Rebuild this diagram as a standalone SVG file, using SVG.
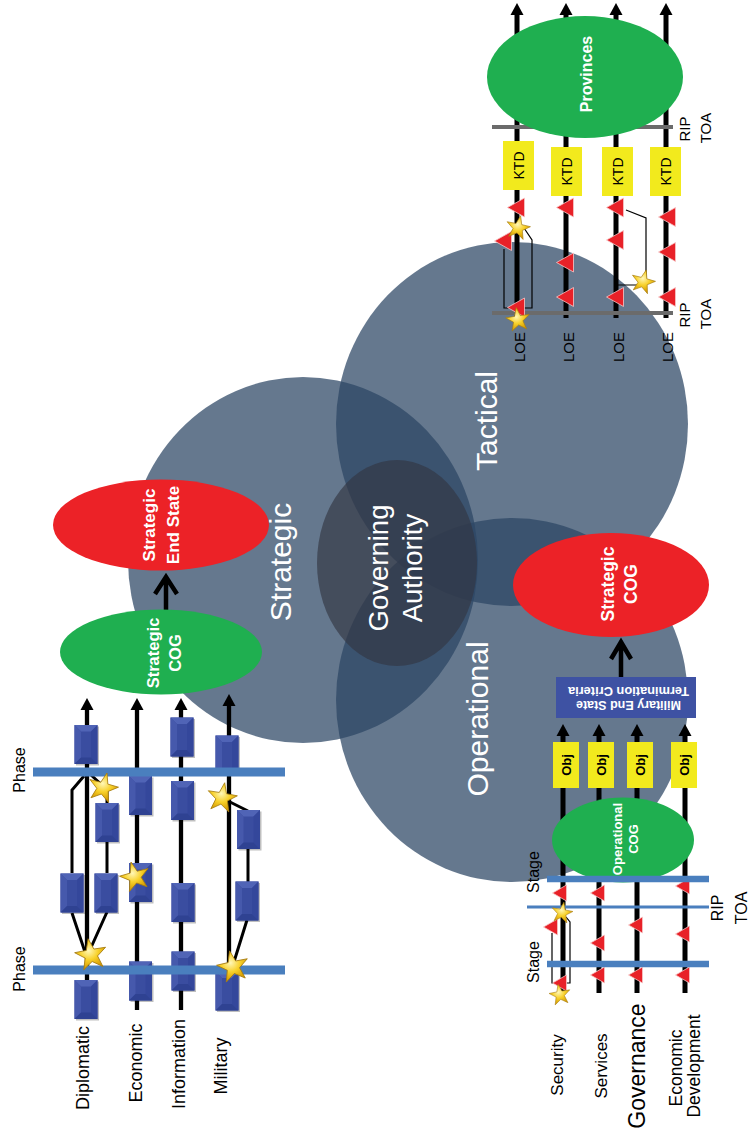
<svg xmlns="http://www.w3.org/2000/svg" width="748" height="1136" viewBox="0 0 748 1136">
<style>
text{font-family:"Liberation Sans",Arial,sans-serif}
.k{fill:#000}
.w{fill:#fff}
.b{font-weight:bold}
.circ{fill:#2c4664;fill-opacity:.73}
.loe{stroke:#000;stroke-width:4.3;fill:none}
.loe5{stroke:#000;stroke-width:5;fill:none}
.br{stroke:#000;stroke-width:3;fill:none}
.thin{stroke:#000;stroke-width:1.2;fill:none}
.chev{stroke:#000;stroke-width:4.5;fill:none}
.phase{stroke:#4a7fbe;stroke-width:9}
.stage{stroke:#4a7fbe;stroke-width:6.5}
.rip{stroke:#4a7fbe;stroke-width:3}
.grey{stroke:#6b6b6b;stroke-width:4}
.green{fill:#1faf50}
.red{fill:#ec2227}
.yel{fill:#f2ea1d}
.mes{fill:#3e52a3}
</style>
<defs>
<marker id="ah" viewBox="0 -7 13 14" refX="1" refY="0" markerWidth="13" markerHeight="14" markerUnits="userSpaceOnUse" orient="auto"><path d="M0,-6.5 L12,0 L0,6.5 Z" fill="#000"/></marker>
<radialGradient id="sg" cx="0.45" cy="0.4" r="0.6"><stop offset="0" stop-color="#fff7b8"/><stop offset="0.5" stop-color="#f8d12a"/><stop offset="1" stop-color="#d49a00"/></radialGradient>
<path id="star" d="M0,-10 L2.351,-3.236 L9.511,-3.090 L3.804,1.236 L5.878,8.090 L0,4 L-5.878,8.090 L-3.804,1.236 L-9.511,-3.090 L-2.351,-3.236 Z" fill="url(#sg)" stroke="#a67c10" stroke-width="0.5"/>
<g id="bx">
<rect x="-10" y="-18" width="23" height="39" fill="#000" opacity="0.25"/>
<rect x="-11.5" y="-19.5" width="23" height="39" fill="#3a4da0"/>
<polygon points="-11.5,-19.5 11.5,-19.5 5,-13 -5,-13" fill="#5064b6"/>
<polygon points="-11.5,-19.5 -5,-13 -5,13 -11.5,19.5" fill="#4659ac"/>
<polygon points="11.5,-19.5 11.5,19.5 5,13 5,-13" fill="#34479b"/>
<polygon points="-11.5,19.5 -5,13 5,13 11.5,19.5" fill="#2f4292"/>
</g>
<path id="tt" d="M-9.5,0 L7.5,-9.5 L7.5,9.5 Z" fill="#e82128" stroke="#f6c6c6" stroke-width="0.8"/>
<path id="to" d="M-8.5,0 L5.5,-8 L5.5,8 Z" fill="#e82128" stroke="#f6c6c6" stroke-width="0.8"/>
</defs>
<rect width="748" height="1136" fill="#fff"/>

<g id="venn">
<ellipse id="circle-strategic" class="circ" cx="303" cy="560" rx="175" ry="183"/>
<ellipse id="circle-tactical" class="circ" cx="512" cy="424" rx="176" ry="182"/>
<ellipse id="circle-operational" class="circ" cx="512" cy="700" rx="176" ry="182"/>
<ellipse id="governing-authority" cx="397" cy="563" rx="80" ry="103" fill="#333542" fill-opacity="0.65"/>
<text class="w" font-size="30" text-anchor="middle" transform="translate(291,562) rotate(-90)">Strategic</text>
<text class="w" font-size="30" text-anchor="middle" transform="translate(497,421) rotate(-90)">Tactical</text>
<text class="w" font-size="30" text-anchor="middle" transform="translate(488,719) rotate(-90)">Operational</text>
<text class="w" font-size="27.5" text-anchor="middle" transform="translate(388,568) rotate(-90)">Governing</text>
<text class="w" font-size="27.5" text-anchor="middle" transform="translate(422,568) rotate(-90)">Authority</text>
</g>

<g id="connectors">
<path class="loe" d="M87,990 V709" marker-end="url(#ah)"/>
<path class="loe" d="M137,1010 V709" marker-end="url(#ah)"/>
<path class="loe" d="M181,1010 V709" marker-end="url(#ah)"/>
<path class="loe" d="M229,990 V705" marker-end="url(#ah)"/>
<path class="br" d="M87,958 L72,913 M72,873 V790 L84,776"/>
<path class="br" d="M89,952 L107,912 M107,873 V842 M107,803 V790 L90,774"/>
<path class="br" d="M226,800 L248,811 M248,849 V882 M247,920 L233,965"/>
<path class="chev" d="M166,610 V578 M155,594 L166,577 L177,594"/>
<path class="loe5" d="M517,318 V14" marker-end="url(#ah)"/>
<path class="loe5" d="M566,318 V14" marker-end="url(#ah)"/>
<path class="loe5" d="M616,318 V14" marker-end="url(#ah)"/>
<path class="loe5" d="M666,318 V14" marker-end="url(#ah)"/>
<path class="thin" d="M504,249 V308 H510 M522,225 L532,240 V308 H524"/>
<path class="thin" d="M626,210 L646,218 V279 M640,285 H617"/>
<path class="loe5" d="M563,993 V735" marker-end="url(#ah)"/>
<path class="loe5" d="M599,993 V735" marker-end="url(#ah)"/>
<path class="loe5" d="M637,993 V735" marker-end="url(#ah)"/>
<path class="loe5" d="M685,993 V735" marker-end="url(#ah)"/>
<path class="thin" d="M552,933 V983 H556 M566,917 L570,922 V983 H566"/>
<path class="chev" d="M621,677 V643 M611,659 L621,642 L631,659"/>
</g>

<g id="strategic-end-state">
<ellipse class="red" cx="161" cy="525" rx="108" ry="45.5"/>
<text class="w b" font-size="17" text-anchor="middle" transform="translate(155,525) rotate(-90)">Strategic</text>
<text class="w b" font-size="17" text-anchor="middle" transform="translate(179,525) rotate(-90)">End State</text>
</g>
<g id="strategic-cog-left">
<ellipse class="green" cx="161" cy="652" rx="101" ry="42.5"/>
<text class="w b" font-size="16.5" text-anchor="middle" transform="translate(159,653) rotate(-90)">Strategic</text>
<text class="w b" font-size="16.5" text-anchor="middle" transform="translate(181,653) rotate(-90)">COG</text>
</g>

<g id="strategic-loe-boxes">
<use href="#bx" x="86" y="744.5"/>
<use href="#bx" x="86" y="999.5"/>
<use href="#bx" x="72" y="893"/>
<use href="#bx" x="106" y="893"/>
<use href="#bx" x="107" y="822.5"/>
<use href="#bx" x="140.5" y="795.5"/>
<use href="#bx" x="140.5" y="882.5"/>
<use href="#bx" x="140.5" y="981"/>
<use href="#bx" x="182" y="737"/>
<use href="#bx" x="182.5" y="800.5"/>
<use href="#bx" x="183" y="902.5"/>
<use href="#bx" x="183" y="971"/>
<use href="#bx" x="227" y="755"/>
<use href="#bx" x="248.5" y="829.5"/>
<use href="#bx" x="247" y="901"/>
<use href="#bx" x="227" y="991"/>
</g>
<g id="phase-bars">
<line class="phase" x1="33" y1="772" x2="285" y2="772"/>
<line class="phase" x1="33" y1="970" x2="285" y2="970"/>
<text class="k" font-size="16" text-anchor="middle" transform="translate(25,770) rotate(-90)">Phase</text>
<text class="k" font-size="16" text-anchor="middle" transform="translate(25,969) rotate(-90)">Phase</text>
</g>
<g id="strategic-stars">
<use href="#star" transform="translate(91,955) rotate(-10) scale(1.65)"/>
<use href="#star" transform="translate(103,788) rotate(15) scale(1.55)"/>
<use href="#star" transform="translate(135,877) rotate(-15) scale(1.55)"/>
<use href="#star" transform="translate(222,798) rotate(10) scale(1.55)"/>
<use href="#star" transform="translate(233,967) rotate(-12) scale(1.65)"/>
</g>
<g id="strategic-labels">
<text class="k" font-size="18" text-anchor="middle" transform="translate(89,1068) rotate(-90)">Diplomatic</text>
<text class="k" font-size="18" text-anchor="middle" transform="translate(142,1063) rotate(-90)">Economic</text>
<text class="k" font-size="18" text-anchor="middle" transform="translate(185,1064) rotate(-90)">Information</text>
<text class="k" font-size="18" text-anchor="middle" transform="translate(227,1066) rotate(-90)">Military</text>
</g>

<g id="rip-toa-tactical">
<line class="grey" x1="492" y1="127" x2="673" y2="127"/>
<line class="grey" x1="492" y1="313" x2="673" y2="313"/>
<text class="k" font-size="15" text-anchor="middle" transform="translate(690,129) rotate(-90)">RIP</text>
<text class="k" font-size="15" text-anchor="middle" transform="translate(711,128) rotate(-90)">TOA</text>
<text class="k" font-size="15" text-anchor="middle" transform="translate(690,315) rotate(-90)">RIP</text>
<text class="k" font-size="15" text-anchor="middle" transform="translate(711,314) rotate(-90)">TOA</text>
</g>
<g id="provinces">
<ellipse class="green" cx="585" cy="77" rx="98" ry="61"/>
<text class="w b" font-size="16" text-anchor="middle" transform="translate(592,74) rotate(-90)">Provinces</text>
</g>
<g id="ktd-1"><rect class="yel" x="503" y="141" width="31" height="49"/><text class="k" font-size="14" text-anchor="middle" transform="translate(523.5,165.5) rotate(-90)">KTD</text></g>
<g id="ktd-2"><rect class="yel" x="551" y="147" width="31" height="49"/><text class="k" font-size="14" text-anchor="middle" transform="translate(571.5,171.5) rotate(-90)">KTD</text></g>
<g id="ktd-3"><rect class="yel" x="602" y="147" width="31" height="49"/><text class="k" font-size="14" text-anchor="middle" transform="translate(622.5,171.5) rotate(-90)">KTD</text></g>
<g id="ktd-4"><rect class="yel" x="650" y="147" width="31" height="49"/><text class="k" font-size="14" text-anchor="middle" transform="translate(670.5,171.5) rotate(-90)">KTD</text></g>
<g id="tactical-milestones">
<use href="#tt" x="517" y="207.5"/>
<use href="#tt" x="504" y="241"/>
<use href="#tt" x="517" y="307.5"/>
<use href="#tt" x="566" y="207.5"/>
<use href="#tt" x="566" y="262.5"/>
<use href="#tt" x="566" y="297"/>
<use href="#tt" x="616" y="207.5"/>
<use href="#tt" x="616" y="240"/>
<use href="#tt" x="616" y="297"/>
<use href="#tt" x="668" y="217"/>
<use href="#tt" x="668" y="252"/>
<use href="#tt" x="668" y="297"/>
<use href="#star" transform="translate(518,228) rotate(12) scale(1.25)"/>
<use href="#star" transform="translate(518,320) rotate(-8) scale(1.25)"/>
<use href="#star" transform="translate(643,282) rotate(15) scale(1.25)"/>
</g>
<g id="tactical-labels">
<text class="k" font-size="15" text-anchor="middle" transform="translate(525,347) rotate(-90)">LOE</text>
<text class="k" font-size="15" text-anchor="middle" transform="translate(574,347) rotate(-90)">LOE</text>
<text class="k" font-size="15" text-anchor="middle" transform="translate(624,347) rotate(-90)">LOE</text>
<text class="k" font-size="15" text-anchor="middle" transform="translate(673,347) rotate(-90)">LOE</text>
</g>

<g id="strategic-cog-right">
<ellipse class="red" cx="611" cy="585" rx="98" ry="52"/>
<text class="w b" font-size="17.5" text-anchor="middle" transform="translate(614,584) rotate(-90)">Strategic</text>
<text class="w b" font-size="17.5" text-anchor="middle" transform="translate(637,584) rotate(-90)">COG</text>
</g>
<g id="military-end-state">
<rect class="mes" x="556" y="677" width="140" height="41"/>
<text class="w b" font-size="12.5" text-anchor="middle" textLength="105" lengthAdjust="spacingAndGlyphs" transform="translate(628.5,700.5) rotate(180)">Military End State</text>
<text class="w b" font-size="12.5" text-anchor="middle" textLength="121" lengthAdjust="spacingAndGlyphs" transform="translate(628.5,687) rotate(180)">Termination Criteria</text>
</g>
<g id="obj-1"><rect class="yel" x="553" y="742" width="26" height="46"/><text class="k b" font-size="13" text-anchor="middle" transform="translate(570.7,765) rotate(-90)">Obj</text></g>
<g id="obj-2"><rect class="yel" x="588" y="742" width="26" height="46"/><text class="k b" font-size="13" text-anchor="middle" transform="translate(605.7,765) rotate(-90)">Obj</text></g>
<g id="obj-3"><rect class="yel" x="627" y="742" width="26" height="46"/><text class="k b" font-size="13" text-anchor="middle" transform="translate(644.7,765) rotate(-90)">Obj</text></g>
<g id="obj-4"><rect class="yel" x="671" y="742" width="26" height="46"/><text class="k b" font-size="13" text-anchor="middle" transform="translate(688.7,765) rotate(-90)">Obj</text></g>
<g id="operational-cog">
<ellipse class="green" cx="623" cy="840" rx="71" ry="42.5"/>
<text class="w b" font-size="13" text-anchor="middle" transform="translate(622,839) rotate(-90)">Operational</text>
<text class="w b" font-size="13" text-anchor="middle" transform="translate(638,839) rotate(-90)">COG</text>
</g>
<g id="operational-milestones">
<use href="#to" x="561" y="893"/>
<use href="#to" x="552" y="927"/>
<use href="#to" x="561" y="983"/>
<use href="#to" x="599" y="893"/>
<use href="#to" x="599" y="943"/>
<use href="#to" x="599" y="975"/>
<use href="#to" x="637" y="925"/>
<use href="#to" x="637" y="975"/>
<use href="#to" x="684" y="886"/>
<use href="#to" x="684" y="934"/>
<use href="#to" x="684" y="975"/>
</g>
<g id="stage-bars">
<line class="stage" x1="547" y1="879" x2="709" y2="879"/>
<line class="stage" x1="547" y1="964" x2="709" y2="964"/>
<line class="rip" x1="527" y1="907" x2="709" y2="907"/>
<text class="k" font-size="16" text-anchor="middle" transform="translate(539,872) rotate(-90)">Stage</text>
<text class="k" font-size="16" text-anchor="middle" transform="translate(539,962) rotate(-90)">Stage</text>
<text class="k" font-size="16" text-anchor="middle" transform="translate(723,908) rotate(-90)">RIP</text>
<text class="k" font-size="16" text-anchor="middle" transform="translate(747,908) rotate(-90)">TOA</text>
</g>
<g id="operational-stars">
<use href="#star" transform="translate(562,913) rotate(10) scale(1.1)"/>
<use href="#star" transform="translate(560,995) rotate(-10) scale(1.1)"/>
</g>
<g id="operational-labels">
<text class="k" font-size="17" text-anchor="middle" transform="translate(563,1065) rotate(-90)">Security</text>
<text class="k" font-size="17" text-anchor="middle" transform="translate(607,1066) rotate(-90)">Services</text>
<text class="k" font-size="23" text-anchor="middle" transform="translate(645,1066) rotate(-90)">Governance</text>
<text class="k" font-size="17.5" text-anchor="middle" transform="translate(682,1068) rotate(-90)">Economic</text>
<text class="k" font-size="17.5" text-anchor="middle" transform="translate(700,1066) rotate(-90)">Development</text>
</g>
</svg>
